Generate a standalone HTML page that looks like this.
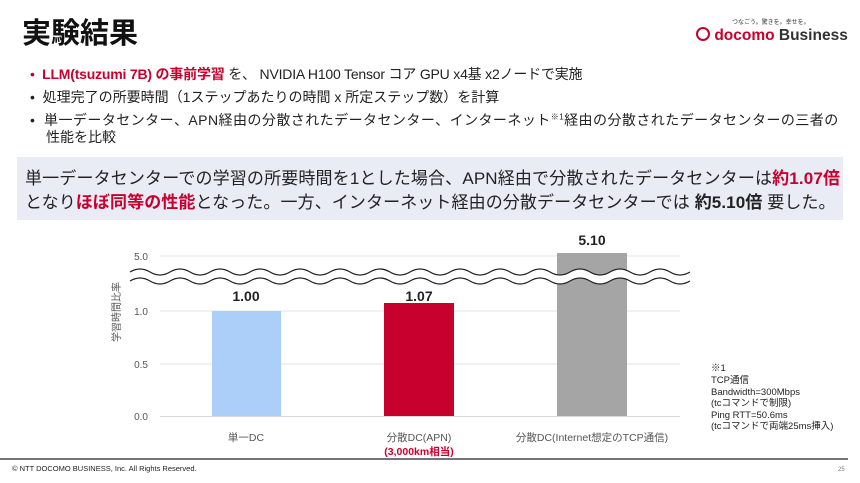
<!DOCTYPE html>
<html><head><meta charset="utf-8"><style>
*{margin:0;padding:0;box-sizing:border-box}
body{width:860px;height:483px;background:#fff;position:relative;overflow:hidden;font-family:"Liberation Sans","Noto Sans CJK JP",sans-serif;color:#222}
.a{position:absolute;white-space:nowrap}
.red{color:#c8002d}
</style></head><body>
<div class="a" style="left:22px;top:10px;font-size:29px;font-weight:bold;color:#111">実験結果</div>
<div class="a" style="left:732px;top:17px;font-size:6px;color:#333">つなごう。驚きを。幸せを。</div>
<div class="a" style="left:696px;top:27px;font-size:15.5px;font-weight:bold;color:#333"><span class="red" style="display:inline-block;width:14px;height:14px;border:2px solid #c8002d;border-radius:50%;vertical-align:-1px"></span> <span class="red">docomo</span> Business</div>
<div class="a" style="left:30px;top:64px;font-size:14px;letter-spacing:-0.2px"><span class="red">•</span>&nbsp;&nbsp;<b class="red">LLM(tsuzumi 7B) の事前学習</b> を、 NVIDIA H100 Tensor コア GPU x4基 x2ノードで実施</div>
<div class="a" style="left:30px;top:87px;font-size:14px;letter-spacing:0px">•&nbsp;&nbsp;処理完了の所要時間（1ステップあたりの時間 x 所定ステップ数）を計算</div>
<div class="a" style="left:30px;top:110px;font-size:14px;letter-spacing:0.45px">•&nbsp;&nbsp;単一データセンター、APN経由の分散されたデータセンター、インターネット<sup style="font-size:8px">※1</sup>経由の分散されたデータセンターの三者の</div>
<div class="a" style="left:46px;top:127px;font-size:14px">性能を比較</div>
<div class="a" style="left:17px;top:157px;width:826px;height:63px;background:#e9ecf5"></div>
<div class="a" style="left:25px;top:164px;font-size:17px;letter-spacing:0.15px">単一データセンターでの学習の所要時間を1とした場合、APN経由で分散されたデータセンターは<b class="red">約1.07倍</b></div>
<div class="a" style="left:25px;top:188px;font-size:17px;letter-spacing:0.1px">となり<b class="red">ほぼ同等の性能</b>となった。一方、インターネット経由の分散データセンターでは <b>約5.10倍</b> 要した。</div>

<svg class="a" style="left:0;top:0" width="860" height="483">
<g stroke="#e3e3e3" stroke-width="1">
<line x1="160" y1="256" x2="680" y2="256"/><line x1="160" y1="311" x2="680" y2="311"/><line x1="160" y1="364" x2="680" y2="364"/>
</g>
<line x1="160" y1="416.5" x2="680" y2="416.5" stroke="#d9d9d9"/>
<rect x="212" y="311" width="69" height="105" fill="#abcff9"/>
<rect x="384" y="303" width="70" height="113" fill="#c8002d"/>
<rect x="557" y="253" width="70" height="163" fill="#a5a5a5"/>
<path d="M130 272 q10 -6 20 0 t20 0 t20 0 t20 0 t20 0 t20 0 t20 0 t20 0 t20 0 t20 0 t20 0 t20 0 t20 0 t20 0 t20 0 t20 0 t20 0 t20 0 t20 0 t20 0 t20 0 t20 0 t20 0 t20 0 t20 0 t20 0 t20 0 t20 0 L690 281 q-10 6 -20 0 t-20 0 t-20 0 t-20 0 t-20 0 t-20 0 t-20 0 t-20 0 t-20 0 t-20 0 t-20 0 t-20 0 t-20 0 t-20 0 t-20 0 t-20 0 t-20 0 t-20 0 t-20 0 t-20 0 t-20 0 t-20 0 t-20 0 t-20 0 t-20 0 t-20 0 t-20 0 t-20 0 Z" fill="#fff"/>
<path d="M130 272 q10 -6 20 0 t20 0 t20 0 t20 0 t20 0 t20 0 t20 0 t20 0 t20 0 t20 0 t20 0 t20 0 t20 0 t20 0 t20 0 t20 0 t20 0 t20 0 t20 0 t20 0 t20 0 t20 0 t20 0 t20 0 t20 0 t20 0 t20 0 t20 0" fill="none" stroke="#222" stroke-width="1.3"/>
<path d="M130 281 q10 -6 20 0 t20 0 t20 0 t20 0 t20 0 t20 0 t20 0 t20 0 t20 0 t20 0 t20 0 t20 0 t20 0 t20 0 t20 0 t20 0 t20 0 t20 0 t20 0 t20 0 t20 0 t20 0 t20 0 t20 0 t20 0 t20 0 t20 0 t20 0" fill="none" stroke="#222" stroke-width="1.3"/>
<g font-size="10" fill="#555" text-anchor="end" font-family="Liberation Sans,sans-serif">
<text x="148" y="260">5.0</text><text x="148" y="315">1.0</text><text x="148" y="368">0.5</text><text x="148" y="420">0.0</text>
</g>
<text transform="translate(120,312) rotate(-90)" font-size="10" fill="#555" text-anchor="middle" font-family="Liberation Sans,Noto Sans CJK JP,sans-serif">学習時間比率</text>
<g font-size="14" font-weight="bold" fill="#222" text-anchor="middle" font-family="Liberation Sans,sans-serif">
<text x="246" y="301">1.00</text><text x="419" y="301">1.07</text><text x="592" y="245">5.10</text>
</g>
<g font-size="10.5" fill="#555" text-anchor="middle" font-family="Liberation Sans,Noto Sans CJK JP,sans-serif">
<text x="246" y="441">単一DC</text><text x="419" y="441">分散DC(APN)</text><text x="592" y="441">分散DC(Internet想定のTCP通信)</text>
<text x="419" y="455" fill="#c8002d" font-weight="bold">(3,000km相当)</text>
</g>
<g font-size="9.5" fill="#222" font-family="Liberation Sans,Noto Sans CJK JP,sans-serif">
<text x="711" y="371">※1</text><text x="711" y="383">TCP通信</text><text x="711" y="395">Bandwidth=300Mbps</text><text x="711" y="406">(tcコマンドで制限)</text><text x="711" y="418">Ping RTT=50.6ms</text><text x="711" y="429">(tcコマンドで両端25ms挿入)</text>
</g>
<line x1="0" y1="459" x2="848" y2="459" stroke="#222" stroke-width="1.2"/>
<text x="12" y="471" font-size="7.5" fill="#222" font-family="Liberation Sans,sans-serif">© NTT DOCOMO BUSINESS, Inc. All Rights Reserved.</text>
<text x="838" y="471" font-size="6" fill="#777" font-family="Liberation Sans,sans-serif">25</text>
</svg>
</body></html>
